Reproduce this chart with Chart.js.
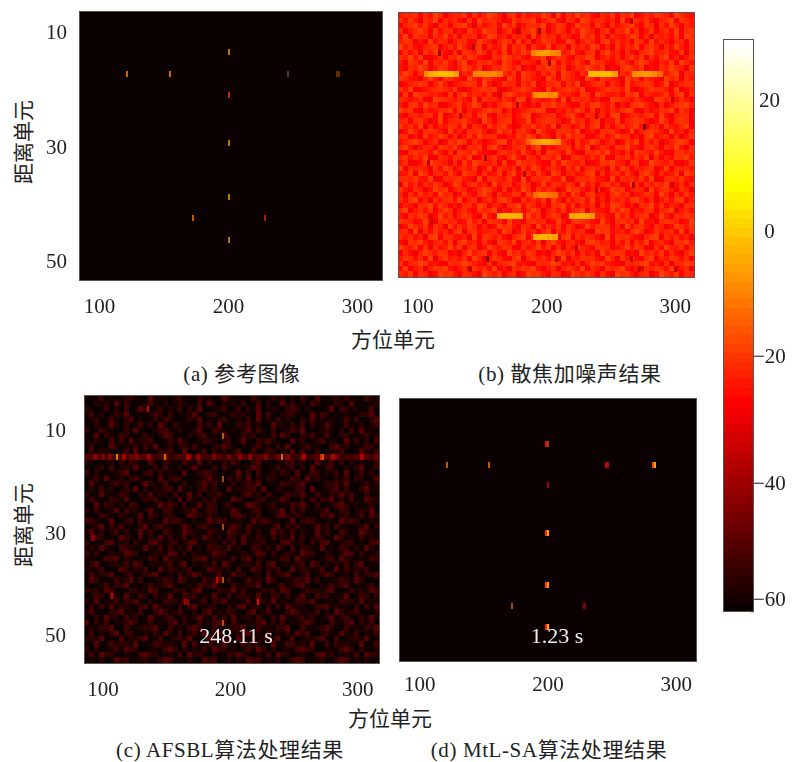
<!DOCTYPE html>
<html><head><meta charset="utf-8">
<style>
html,body{margin:0;padding:0;background:#fff;width:795px;height:762px;overflow:hidden}
canvas{position:absolute}
.t{position:absolute;transform:translate(-50%,-50%);white-space:nowrap;font:21px "Liberation Serif","Noto Sans CJK SC",serif;color:#222}
.v{transform:translate(-50%,-50%) rotate(-90deg)}
.c{letter-spacing:.6px}
</style>
<script src="https://cdn.jsdelivr.net/npm/chart.js@4"></script>
</head><body>
<div class="t" style="left:393px;top:338px">方位单元</div>
<div class="t" style="left:390px;top:717px">方位单元</div>
<div class="t v" style="left:22px;top:142px">距离单元</div>
<div class="t v" style="left:22px;top:525px">距离单元</div>
<div class="t c" style="left:242px;top:372px">(a) 参考图像</div>
<div class="t c" style="left:570px;top:372px">(b) 散焦加噪声结果</div>
<div class="t c" style="left:230px;top:748px">(c) AFSBL算法处理结果</div>
<div class="t c" style="left:549px;top:748px">(d) MtL-SA算法处理结果</div>
<script>
// azimuth ticks (true image axis), range ticks, and the printed labels
const azTicks=[100,150,200,250,300];
const rangeTicks=[5,10,15,20,25,30,35,40,45,50];
const azLabels=[100,200,300];
const rangeLabels=[10,30,50];

// isolated scatterers: [azimuth, range, dB, optional dimming from the picture's resampling]
const targetsA=[[198,8,-6,.72],[97,12,-12,.8],[139,12,-12,.85],[257,12,-10,.42],[305,12,-8,.34],[307,12,-8,.34],[198,16,-18,.72],[198,25,-5,.7],[198,35,-3,.68],[162,39,-12,.75],[234,39,-18,.6],[198,43,-3,.68]];
const targetsC=[[83,12,-6,.8],[132,12,-10,.75],[251,12,-10,.8],[291,12,-20,.7],[293,12,-14,.8],[191,8,-12,.7],[191,16,-14,.7],[191,25,-14,.7],[191,35,-12,.7],[185,35,-30,.9],[152,39,-36,.8],[155,39,-34,.8],[227,39,-27],[191,43,-13,.7],[78,38,-33],[114,3,-33],[57,27,-43],[59,27,-43]];
const targetsD=[[98,13,-12,.75],[140,13,-12,.75],[198,9,-28],[200,9,-12,.6],[259,13,-34],[261,13,-26,.7],[306,13,-18],[308,13,-6],[200,17,-38],[198,26,-22],[200,26,-5],[198,36,-18],[200,36,-7],[164,40,-12,.65],[236,40,-42],[238,40,-42],[198,44,-24],[200,44,-3]];
// brighter cells along the streak in row 12 of panel c: [azimuth, range, dB]
const streakC=[[60,12,-42],[68,12,-44],[75,12,-42],[90,12,-40],[103,12,-42],[115,12,-40],[155,12,-38],[165,12,-42],[182,12,-44],[208,12,-43],[218,12,-42],[235,12,-44],[257,12,-42],[273,12,-38],[303,12,-38],[333,12,-38]];
// defocused bands of panel b: [azimuth, range, dB] on a 5-unit grid
const bandsB=[
[78,12,-8],[83,12,-5],[88,12,-3],[93,12,-2],[98,12,-2],[103,12,-3],[108,12,-6],
[128,12,-10],[133,12,-8],[138,12,-8],[143,12,-8],[148,12,-9],[153,12,-12],
[245,12,-3],[250,12,-1],[255,12,-1],[260,12,-1],[265,12,-2],[270,12,-6],
[290,12,-8],[295,12,-7],[300,12,-6],[305,12,-7],[310,12,-8],[315,12,-13],
[187,8,-10],[192,8,-7],[197,8,-6],[202,8,-6],[207,8,-8],[212,8,-10],
[189,16,-9],[194,16,-7],[199,16,-7],[204,16,-8],[209,16,-9],
[182,25,-14],[187,25,-9],[192,25,-6],[197,25,-5],[202,25,-5],[207,25,-6],[212,25,-9],
[189,35,-13],[194,35,-10],[199,35,-10],[204,35,-11],[209,35,-13],
[153,39,-5],[158,39,-3],[163,39,-3],[168,39,-3],[173,39,-4],
[226,39,-6],[231,39,-5],[236,39,-5],[241,39,-5],[246,39,-7],
[189,43,-5],[194,43,-3],[199,43,-3],[204,43,-4],[209,43,-6]];
// dark specks located in panel b: [azimuth, range, dB]
const specksB=[[193,4,-40],[91,8,-40],[126,7,-38],[203,10,-38],[300,22,-44],[171,18,-38],[140,47,-42],[288,33,-38],[138,28,-38],[80,29,-36],[170,4,-34],[153,16,-34],[113,20,-34],[328,17,-34],[251,20,-34],[286,2,-34],[178,31,-36],[251,34,-34],[328,33,-34],[83,40,-34],[230,45,-36],[210,47,-34],[286,47,-34],[331,49,-34],[123,49,-36],[295,49,-36]];

// Hand-estimated impression of panel b's speckle on a coarse 60-column grid (digit -> noiseDbB).
// Individual cells are approximate.
const noiseDbB=[-32,-29,-27,-25,-24,-23,-22,-21,-19.5,-18];
const noiseB=[
"475826397146582735964178263549718264957316482759136487529643",
"638417592746318295764138576924683175298467351927648315792864",
"257948316527894163572948136759248613957284163579428617395274",
"714695283671428539761482057936148527396415827593614825739168",
"392857164938265714983526471938572641395827164359827164538297",
"586142937514862397415862937148652397148526937451862937415628",
"947325681473952681734926581743925618473962518374926851739426",
"263718495326187495263817495632187459326817945263178945632817",
"759481136275948632175984632579148632759814637259481637925148",
"418639275841692375841963275418692735841967325841697325481963",
"326597148632597481365974813265974813659748132697481326597418",
"597264813975264819752648197526481975264819752648917526489175",
"864315942864319528643195286431952864319528643195826431958264",
"135786259413578629413857264913578264913587264193578624913578",
"749123568749213568792135687421935687491235867492135867429135",
"281967453281694753821697453826197453286197435286917435826917",
"653472198653742918563742981653472918657342198653742198563742",
"427839561247835961427895631428795631274895361427895316247895",
"968215347692815347968251347698215374962815374698215347692851",
"315746829135746289317562489135762489317546289135746829315762",
"572684139257684319527681349257864139572681439257864139527861",
"846391725486391752846931275846391752483691725846931752843692",
"139527864193527684139572684195327864913527684139257864193527",
"672418359627148395672143859627418395762148359672418935627148",
"358962471385962741358926471358962741835962471385926471358962",
"794136528749316582794135682791435682749136528794316852749316",
"216875394261875943216857394261875394216785934261875394216857",
"583749216538749126583179426538749126853749216583749162538794",
"461238975416283975461823975642183975461238795416823975462138",
"927564183972564813927546183972564183927654183972546813927564",
"348196257384196527348169257384196257348916257384169527348196",
"675843912657843192675483192657843912675843192657483912675843",
"193627485139627845193672485139276485193627845139627485913627",
"842751396824751369842715396284751396842571396824751936842751",
"516384729561384279516348729561384729516834279561348729516384",
"738925164783925614738952164738295164783925164738952614738925",
"254167938524167398254176938524167938254716398524167938254176",
"691473825961473285691437825961473825691743285961437825691473",
"427586139472586319427568139472586139427856319472568139427586",
"865239417856239471865293417856239417865329417856293417865239",
"139748265193748625139784265193748265139478625193784265139748",
"572916384527916834572961384527916384572196834527961384572916",
"746351892764351928746315892764351892746531928764315892746351",
"318694257381694527318649257381694257318964527381649257318694",
"954827163594827613954872163594827163954287613594872163954827",
"263159748623159478263195748623159748263519478623195748263159",
"487362915847362951487326915847362915487632951847326915487362",
"615798342165798432615789342165798342615978432165789342615798",
"392471586932471856392417586932471586392741856932417586392471",
"748265139784265319748256139784265139748526319784256139748265"];

// Hand-estimated impression of panel c's residual clutter on the same grid (digit -> noiseDbC).
// Row 12 carries the streak; individual cells are approximate.
const noiseDbC=[-60,-60,-58.5,-57.5,-56.5,-55,-53.5,-52,-50,-47];
const noiseC=[
"203714025630183420571306241085320174036251407318204536021743",
"014250836102473150264017382051436027150382604175023641803125",
"520361407128503614270538102463071528034216750431028165340271",
"371402658031247506132480357012645308271045630182750314206583",
"046127305814026375102648031570243618052734106382514027361058",
"215038416027351840623107452803164725018342607153284036125047",
"602743105382014672350148207631405827316024758103462051738240",
"138064275013620487130526704182036451207385016472380156024735",
"405217360824571036284103652047138206574013826035714208361507",
"271308514260738125046372014586203147350628014723106845023761",
"063541027183402657318024716350482071365142807316024571038426",
"879768786978867796787968778879768678867978769678887967786879",
"520134062751083164207438150263741058120346725018437260514036",
"204617035284106372051483206173042586013724615082367014258036",
"715032468120573604218035764120483617025364180275143608127350",
"046283150674021835761023584106372815064213750846201537064128",
"382105746013852470136025847321604758132076458201365748012635",
"150724036281504367182405736018245673801542367180245736015824",
"603841275016382540713826054731206845173026548317206485731620",
"274016538102647305182640537102864035712486035172648053712864",
"018365240761023857416028375146203875146023758416023785140263",
"536204817350482176034581276034851267034581726304581276035481",
"201753064128075346210875364120785346102785364120758346127085",
"764038125607341285763041285760342185763402815763042185760342",
"125806473215806743128506743125860743215806473128560743125806",
"380624715038462175038642175308642715038462715308462175038642",
"047513286407153826047153862407518326407153826047513862407153",
"612078345162078435612780345162708345612078435162780345612078",
"253840176523840716253804176528340176253840716523804176253840",
"706135248760135428706153248761035248706135428760153248706135",
"431276805413276085431267805431726805413276085431267085413276",
"168024537186024357168042537186204537168024357186042537168024",
"524710386254710836524701386524170386254710836524701836254710",
"073568124703568214073586124703856124073568214703586214073568",
"386102745836102475386120745836012745386102475836120475386102",
"210473658120473568210437658210743658120473568210437568120473",
"645287013654287103645278013654827013645287103654278103645287",
"037516428307516248037561428307156428037516248307561248037516",
"528043716582043176528034716582304716528043176582034176528043",
"160728354106728534160782354106278354160728534106782534160728",
"473105682437105862473150682437510682473105862437150862473105",
"206384517260384157206348517260834517206384157260348157206384",
"815270346851270436815207346851720346815270436851207436815270",
"342658107324658017342685107324568107342658017324685017342658",
"071436825701436285071463825701346825071436285701463285071436",
"564802173546802713564820173546082173564802713546820713564802",
"218037465281037645218073465281307465218037645281073645218037",
"605124738650124378605142738650412738605124378650142378605124",
"370865214307865124370856214307586214370865124307856124370865",
"142503867124503687142530867124053867142503687124530687142503"];

// colour bar
const cbLevels=[-59.3,-57.9,-56.5,-55.1,-53.7,-52.3,-50.9,-49.5,-48.0,-46.6,-45.2,-43.8,-42.4,-41.0,-39.6,-38.2,-36.8,-35.4,-34.0,-32.6,-31.2,-29.8,-28.4,-27.0,-25.5,-24.1,-22.7,-21.3,-19.9,-18.5,-17.1,-15.7,-14.3,-12.9,-11.5,-10.1,-8.7,-7.3,-5.9,-4.5,-3.0,-1.6,-0.2,1.2,2.6,4.0,5.4,6.8,8.2,9.6,11.0,12.4,13.8,15.2,16.6,18.0,19.5,20.9,22.3,23.7,25.1,26.5,27.9,29.3];
const cbTicks=[-60,-50,-40,-30,-20,-10,0,10,20];
const cbLabelAt=[20.3,-0.4,-20.1,-40,-58.4];
const cbLabels=["20","0","−20","−40","−60"];

const FONT='"Liberation Serif","Noto Sans CJK SC",serif';
const INK='#222', FRAME='#555', TICK='#555';

function hot(db){
  const i=Math.max(0,Math.min(63,Math.floor((db+60)/90*64)));
  const r=i<24?(i+1)/24:1, g=i<24?0:i<48?(i-23)/24:1, b=i<48?0:(i-47)/16;
  return `rgb(${Math.round(r*255)},${Math.round(g*255)},${Math.round(b*255)})`;
}
const cellCache={};
function cell(db,w,h,a){
  const c=hot(db), k=c+w+'x'+h+'a'+a;
  if(!cellCache[k]){
    const cv=document.createElement('canvas');cv.width=w;cv.height=h;
    const g=cv.getContext('2d');g.globalAlpha=a;g.fillStyle=c;g.fillRect(0,0,w,h);cellCache[k]=cv;
  }
  return cellCache[k];
}
// Chart.js paints the first dataset last, so marks on top are listed first.
function cellSet(points,w,h){
  return {data:points,xAxisID:'x',yAxisID:'y',showLine:false,clip:0,pointRadius:1,
    pointStyle:ctx=>cell(ctx.raw.v,w,h,ctx.raw.a||1)};
}
function gridCells(rows,map){
  const out=[];
  rows.forEach((s,r)=>{for(let c=0;c<s.length;c++)out.push({x:52.5+5*c,y:r+1,v:map[+s[c]]});});
  return out;
}
const tri=a=>a.map(p=>({x:p[0],y:p[1],v:p[2],a:p[3]}));

const bgPlugin={id:'bg',beforeDatasetsDraw(ch){
  const a=ch.chartArea,g=ch.ctx;g.save();g.fillStyle=hot(-60);g.fillRect(a.left,a.top,a.width,a.height);g.restore();
}};
function fixed(list){return s=>{s.ticks=list.map(v=>({value:v}));};}
function noOverhang(s){s.paddingLeft=s.paddingRight=s.paddingTop=s.paddingBottom=0;}
function edgeAxis(pos,min,max,ticks,rev){
  const horiz=pos==='top'||pos==='bottom';
  return {type:'linear',position:pos,min,max,reverse:!!rev,weight:0,
    afterBuildTicks:fixed(ticks),
    afterFit:s=>{noOverhang(s);if(horiz)s.height=0;else s.width=0;},
    ticks:{display:false},
    grid:{display:true,drawOnChartArea:false,drawTicks:true,tickLength:-3,tickColor:TICK,tickWidth:1.5},
    border:{display:true,color:FRAME,width:2}};
}
function labelAxis(pos,min,max,vals,size,pad,rev){
  const horiz=pos==='bottom';
  return {type:'linear',position:pos,min,max,reverse:!!rev,weight:1,
    afterBuildTicks:fixed(vals),
    afterFit:s=>{noOverhang(s);if(horiz)s.height=size;else s.width=size;},
    ticks:{display:true,padding:pad,color:INK,font:{family:FONT,size:21},autoSkip:false,maxRotation:0,minRotation:0},
    grid:{display:false,drawTicks:false},border:{display:false}};
}
function panel(cfg){
  const padL=cfg.padL||3, botH=40;
  const cv=document.createElement('canvas');
  const W=cfg.r-cfg.l+padL+3, H=cfg.b-cfg.t+3+botH;
  cv.width=W;cv.height=H;
  cv.style.left=(cfg.l-padL)+'px';cv.style.top=(cfg.t-3)+'px';cv.style.width=W+'px';cv.style.height=H+'px';
  document.body.appendChild(cv);
  const scales={
    x:edgeAxis('bottom',50,350,azTicks),
    xT:edgeAxis('top',50,350,azTicks),
    y:edgeAxis('left',0.5,50.5,rangeTicks,true),
    yR:edgeAxis('right',0.5,50.5,rangeTicks,true),
    xL:labelAxis('bottom',cfg.xl[0],cfg.xl[1],azLabels,botH,cfg.xPad||15)
  };
  if(cfg.yl)scales.yL=labelAxis('left',cfg.yl[0],cfg.yl[1],rangeLabels,padL,cfg.yPad,true);
  new Chart(cv,{type:'scatter',data:{datasets:cfg.datasets},plugins:[bgPlugin],
    options:{responsive:false,animation:false,events:[],
      layout:{padding:{top:3,right:3,left:cfg.yl?0:padL,bottom:0}},
      plugins:{legend:{display:false},title:{display:false},tooltip:{enabled:false}},
      scales}});
}
panel({l:80,r:384,t:10,b:280,padL:60,xl:[84.8,319],yl:[6.17,53.13],yPad:13,
  datasets:[cellSet(tri(targetsA),2,6)]});
panel({l:397,r:696,t:11,b:277,xPad:18,xl:[85.2,314.6],
  datasets:[cellSet(tri(bandsB),6,6),cellSet(tri(specksB),3,6),cellSet(gridCells(noiseB,noiseDbB),6,6)]});
panel({l:85,r:381,t:394,b:663,padL:65,xl:[85.9,316.6],yl:[3,55.2],yPad:19,
  datasets:[cellSet(tri(targetsC),2,6),cellSet(tri(streakC),4,6),cellSet(gridCells(noiseC,noiseDbC),6,6)]});
panel({l:398,r:698,t:397,b:661,xPad:12,xl:[84.6,315.4],
  datasets:[cellSet(tri(targetsD),2,6)]});

// colour bar
(function(){
  const l=722,r=749,t=38,b=613,padL=3,rightW=46;
  const cv=document.createElement('canvas');
  const W=r-l+padL+rightW,H=b-t+6;
  cv.width=W;cv.height=H;
  cv.style.left=(l-padL)+'px';cv.style.top=(t-3)+'px';cv.style.width=W+'px';cv.style.height=H+'px';
  document.body.appendChild(cv);
  const pts=cbLevels.map(v=>({x:0.5,y:v,v}));
  const cbl=labelAxis('right',-60,30,cbLabelAt,42,0,false);
  cbl.ticks.crossAlign='center';
  cbl.ticks.callback=(v,i)=>cbLabels[i];
  const yMain=edgeAxis('right',-60,30,cbTicks);
  const yLeft=edgeAxis('left',-60,30,[]);
  const xB=edgeAxis('bottom',0,1,[]);
  const xT=edgeAxis('top',0,1,[]);
  new Chart(cv,{type:'scatter',data:{datasets:[cellSet(pts,29,10)]},
    options:{responsive:false,animation:false,events:[],
      layout:{padding:{top:3,bottom:3,left:padL,right:0}},
      plugins:{legend:{display:false},tooltip:{enabled:false}},
      scales:{x:xB,xT,y:yLeft,yR:yMain,yL:cbl}}});
})();
</script>
<div class="t" style="left:236px;top:636px;color:#eee;font-size:22px">248.11 s</div>
<div class="t" style="left:557px;top:636px;color:#eee;font-size:22px">1.23 s</div>
</body></html>
